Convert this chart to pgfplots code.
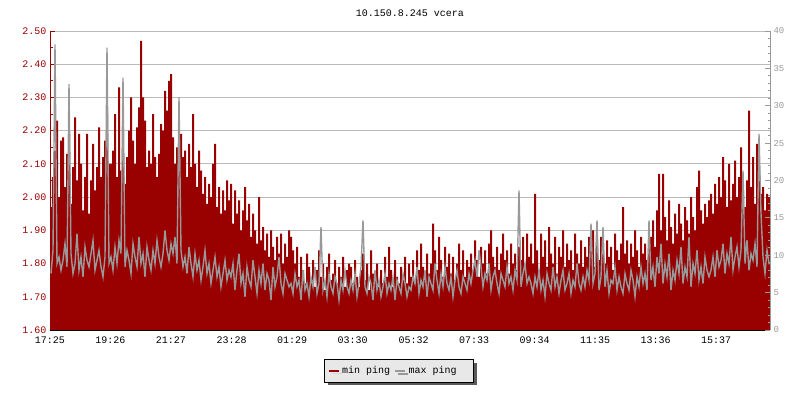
\documentclass[border=0pt]{standalone}
\usepackage{fontspec}
\setmainfont{Liberation Mono}
\usepackage{pgfplots}
\usepackage{pgfplotstable}
\pgfplotsset{compat=1.18}
\usetikzlibrary{shadows}
\definecolor{dred}{HTML}{990000}
\definecolor{lgray}{HTML}{999999}
\definecolor{gridc}{HTML}{BBBBBB}
\definecolor{legbg}{HTML}{E8E8E8}
\definecolor{shadc}{HTML}{5A5A5A}
\pgfplotsset{/pgf/number format/assume math mode=true}

% min ping (mn) and max ping (mx), one row every 4 minutes from 17:25
\pgfplotstableread{
mn mx
1.97 1.77
2.06 1.84
2.14 2.46
2.23 1.80
2.00 1.82
2.17 1.78
2.18 1.81
2.03 1.86
2.13 1.79
2.19 2.34
1.98 1.83
2.09 1.77
2.24 1.80
2.05 1.89
2.19 1.78
2.10 1.82
1.96 1.76
2.06 1.85
2.19 1.81
1.95 1.79
2.05 1.83
2.16 1.87
2.02 1.78
2.09 1.81
2.21 1.84
2.06 1.79
2.12 1.76
2.17 1.82
2.25 2.45
2.10 1.80
2.10 1.82
2.14 1.78
2.25 1.85
2.06 1.80
2.33 1.87
2.08 1.83
2.13 2.36
2.04 1.79
2.12 1.84
2.20 1.81
2.30 1.77
2.17 1.86
2.10 1.82
2.21 1.79
2.27 1.88
2.47 1.80
2.30 1.83
2.23 1.76
2.09 1.85
2.14 1.81
2.10 1.78
2.25 1.84
2.12 1.80
2.06 1.87
2.13 1.82
2.22 1.79
2.20 1.83
2.32 1.90
2.26 1.84
2.35 1.81
2.37 1.86
2.18 1.83
2.10 1.88
2.15 1.80
2.08 2.30
2.19 1.84
2.12 1.79
2.14 1.82
2.06 1.77
2.16 1.85
2.09 1.80
2.25 1.76
2.10 1.83
2.03 1.78
2.14 1.81
2.08 1.75
2.01 1.79
2.06 1.84
1.98 1.77
2.04 1.80
2.00 1.74
2.10 1.78
2.16 1.82
1.97 1.76
2.03 1.79
1.95 1.73
2.02 1.77
1.96 1.81
2.05 1.75
1.99 1.78
2.04 1.76
1.92 1.80
2.02 1.72
1.95 1.78
1.99 1.83
1.90 1.74
1.96 1.77
2.03 1.70
1.93 1.79
1.98 1.75
1.88 1.73
1.95 1.81
1.90 1.76
1.86 1.71
2.00 1.78
1.87 1.74
1.91 1.80
1.84 1.72
1.89 1.77
1.82 1.75
1.90 1.69
1.85 1.79
1.81 1.73
1.88 1.76
1.83 1.82
1.89 1.74
1.80 1.71
1.86 1.77
1.82 1.75
1.90 1.73
1.88 1.74
1.84 1.71
1.80 1.77
1.85 1.73
1.76 1.75
1.82 1.69
1.78 1.78
1.74 1.72
1.83 1.74
1.79 1.70
1.75 1.76
1.81 1.73
1.73 1.79
1.78 1.71
1.84 1.74
1.76 1.91
1.80 1.72
1.72 1.75
1.79 1.70
1.83 1.77
1.75 1.73
1.77 1.71
1.81 1.76
1.74 1.74
1.79 1.69
1.76 1.75
1.82 1.72
1.73 1.78
1.78 1.73
1.80 1.71
1.79 1.75
1.74 1.72
1.81 1.77
1.76 1.70
1.73 1.74
1.78 1.79
1.83 1.93
1.75 1.73
1.80 1.71
1.72 1.76
1.84 1.74
1.77 1.69
1.75 1.78
1.80 1.72
1.73 1.75
1.78 1.70
1.74 1.73
1.82 1.77
1.76 1.71
1.85 1.74
1.78 1.72
1.73 1.76
1.81 1.69
1.76 1.75
1.74 1.73
1.79 1.71
1.75 1.77
1.82 1.74
1.74 1.70
1.80 1.73
1.76 1.72
1.81 1.76
1.74 1.74
1.84 1.79
1.78 1.71
1.86 1.75
1.79 1.73
1.75 1.78
1.83 1.70
1.77 1.76
1.80 1.74
1.92 1.72
1.84 1.80
1.78 1.75
1.88 1.71
1.81 1.77
1.76 1.73
1.85 1.79
1.79 1.74
1.83 1.72
1.77 1.76
1.82 1.70
1.75 1.75
1.80 1.78
1.86 1.73
1.78 1.71
1.84 1.76
1.76 1.74
1.81 1.72
1.79 1.77
1.83 1.74
1.78 1.78
1.87 1.81
1.81 1.76
1.76 1.84
1.85 1.79
1.80 1.73
1.84 1.77
1.77 1.75
1.86 1.80
1.90 1.72
1.82 1.76
1.79 1.78
1.85 1.74
1.78 1.71
1.83 1.77
1.89 1.75
1.81 1.73
1.84 1.79
1.77 1.74
1.86 1.76
1.80 1.72
1.83 1.78
1.78 1.75
1.85 2.02
1.81 1.73
1.88 1.77
1.79 1.80
1.89 1.74
1.82 1.76
1.86 1.74
1.80 1.71
2.01 1.76
1.84 1.73
1.78 1.78
1.89 1.72
1.82 1.75
1.87 1.70
1.79 1.77
1.91 1.74
1.83 1.72
1.80 1.79
1.88 1.73
1.77 1.76
1.85 1.71
1.82 1.75
1.90 1.78
1.79 1.72
1.86 1.74
1.81 1.77
1.84 1.71
1.78 1.75
1.89 1.73
1.83 1.80
1.80 1.74
1.87 1.72
1.79 1.76
1.85 1.73
1.82 1.78
1.88 1.75
1.84 1.92
1.90 1.74
1.79 1.77
1.86 1.93
1.81 1.72
1.88 1.76
1.83 1.91
1.80 1.73
1.87 1.78
1.82 1.71
1.85 1.75
1.78 1.74
1.89 1.79
1.84 1.72
1.81 1.76
1.86 1.73
1.97 1.71
1.83 1.77
1.87 1.74
1.80 1.72
1.86 1.78
1.82 1.75
1.90 1.70
1.84 1.76
1.79 1.73
1.88 1.79
1.83 1.74
1.86 1.77
1.81 1.72
1.85 1.93
1.88 1.75
1.93 1.79
1.85 1.73
1.96 1.82
2.07 1.77
1.90 1.86
2.07 1.74
1.94 1.80
1.87 1.76
1.99 1.83
1.91 1.72
1.86 1.78
1.95 1.75
1.89 1.81
1.98 1.77
1.92 1.85
1.87 1.74
1.97 1.79
1.93 1.76
1.89 1.88
2.00 1.73
1.94 1.80
1.90 1.77
2.03 1.84
2.08 1.75
1.96 1.79
1.92 1.74
1.98 1.82
1.94 1.78
1.99 1.76
2.01 1.78
1.95 1.82
2.04 1.76
1.98 1.84
2.06 1.79
2.00 1.81
2.12 1.86
2.05 1.77
1.97 1.83
2.10 1.80
1.99 1.88
2.04 1.78
2.11 1.82
2.00 1.85
2.06 1.79
2.15 1.84
2.02 2.08
1.97 1.80
2.05 1.87
2.26 1.78
2.03 1.83
2.12 1.81
1.98 1.86
2.16 1.79
2.08 2.19
2.01 1.95
2.03 1.82
1.96 1.77
2.01 1.84
2.00 1.80
2.00 1.80
}\data

\begin{document}
\begin{tikzpicture}
\path[use as bounding box] (0,0) rectangle (800bp,400bp);
\begin{axis}[
  at={(50bp,70bp)}, anchor=south west,
  scale only axis, width=720bp, height=299bp,
  xmin=0, xmax=1440, ymin=1.6, ymax=2.5,
  axis x line*=bottom, axis y line*=left,
  x axis line style={black,-,line width=1.5bp},
  y axis line style={dred,-,line width=1bp},
  xtick={0,121,242,363,484,605,727,848,969,1090,1211,1332},
  xticklabels={17:25,19:26,21:27,23:28,01:29,03:30,05:32,07:33,09:34,11:35,13:36,15:37},
  xticklabel style={yshift=-3bp},
  ytick={1.6,1.7,1.8,1.9,2.0,2.1,2.2,2.3,2.4,2.5},
  minor y tick num=1,
  yticklabel style={text=dred,/pgf/number format/fixed,/pgf/number format/fixed zerofill,/pgf/number format/precision=2},
  y tick style={dred,line width=0.8bp}, x tick style={black,line width=0.8bp},
  tick align=inside, major tick length=5bp, minor tick length=3bp,
  ymajorgrids, major grid style={gridc,line width=0.8bp},
  every tick label/.append style={font=\fontsize{10bp}{12bp}\selectfont},
  title={10.150.8.245 vcera},
  title style={font=\fontsize{10bp}{12bp}\selectfont, at={(0.5,1)}, anchor=center, yshift=12bp},
  legend columns=2,
  legend style={at={(0.485,-0.137)}, anchor=center, draw=black, fill=legbg,
    font=\fontsize{10bp}{12bp}\selectfont, line width=0.8bp,
    inner xsep=3bp, inner ysep=5bp,
    drop shadow={shadow xshift=3bp, shadow yshift=-3bp, fill=shadc, opacity=1},
    /tikz/every even column/.append style={column sep=2bp}},
]
\addplot[const plot, fill=dred, draw=none,
  legend image code/.code={\draw[dred,line width=2.5bp] (0bp,0bp) -- (10bp,0bp);}]
  table[x expr=\coordindex*4, y=mn]{\data} \closedcycle;
\addlegendentry{min ping}
\addplot[sharp plot, lgray, line width=1.4bp,
  legend image code/.code={\draw[lgray,line width=2.5bp] (0bp,0bp) -- (10bp,0bp);}]
  table[x expr=\coordindex*4+2, y=mx]{\data};
\addlegendentry{max ping\hspace*{12bp}}
\end{axis}
\begin{axis}[
  at={(50bp,70bp)}, anchor=south west,
  scale only axis, width=720bp, height=299bp,
  xmin=0, xmax=1440, ymin=0, ymax=40,
  axis x line=none, axis y line*=right,
  y axis line style={lgray,-,line width=1bp},
  ytick={0,5,10,15,20,25,30,35,40}, minor y tick num=4,
  yticklabel style={text=lgray},
  y tick style={lgray,line width=0.8bp},
  tick align=inside, major tick length=5bp, minor tick length=2.5bp,
  every tick label/.append style={font=\fontsize{9bp}{11bp}\selectfont},
]
\addplot[draw=none] coordinates {(0,0)};
\end{axis}
\end{tikzpicture}
\end{document}
